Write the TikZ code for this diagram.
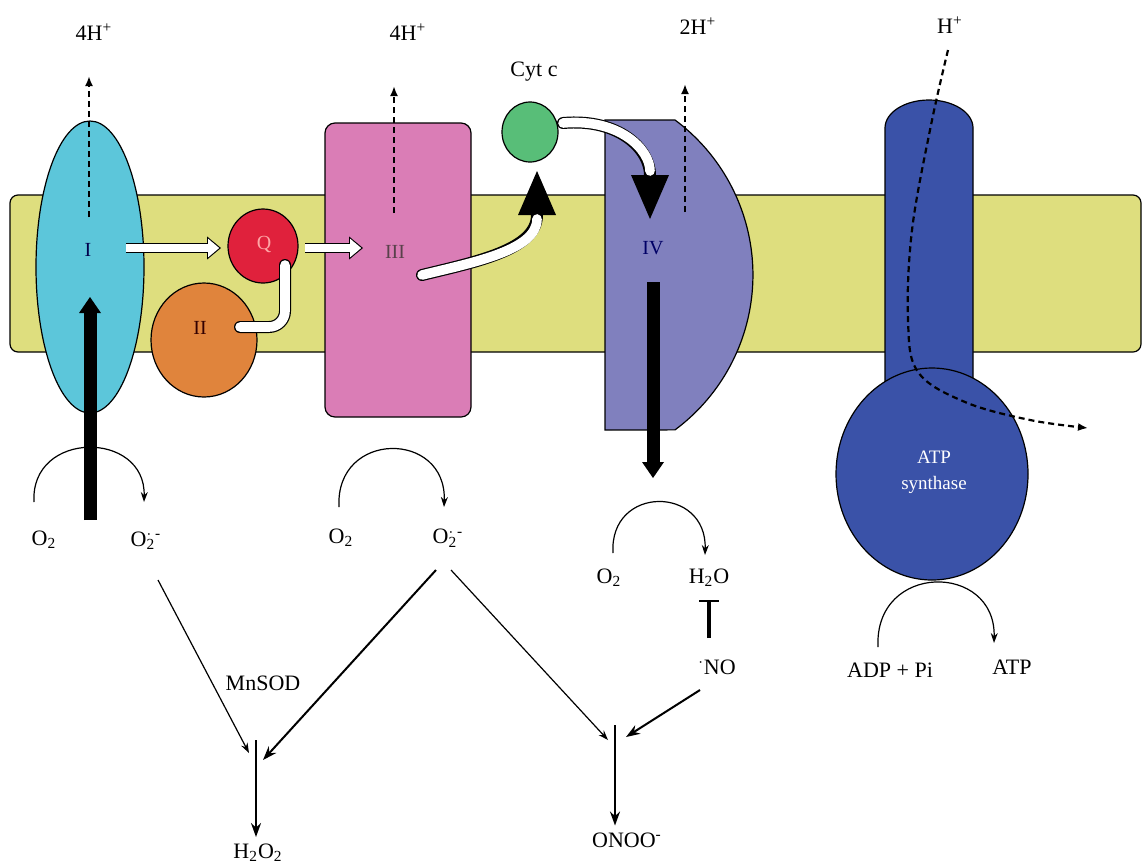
\documentclass[tikz,border=0pt]{standalone}
\usepackage{fontspec}
\setmainfont{Liberation Serif}
\usetikzlibrary{arrows.meta}
\definecolor{membrane}{HTML}{DEDE7E}
\definecolor{cI}{HTML}{5CC6DA}
\definecolor{cII}{HTML}{E0843C}
\definecolor{cQ}{HTML}{E0213C}
\definecolor{cIII}{HTML}{DA7DB6}
\definecolor{cyt}{HTML}{58BE78}
\definecolor{cIV}{HTML}{8080BE}
\definecolor{atps}{HTML}{3A52A8}
\tikzset{
  >=latex,
}
\tikzstyle{every node}=[font=\fontsize{11}{13}\selectfont]
\tikzstyle{cplx}=[draw=black, line width=0.6pt]
\tikzstyle{cname}=[font=\fontsize{10}{12}\selectfont]
\tikzstyle{eflow}=[white, line width=3.8pt, -{Triangle[length=5.6pt,width=9.4pt,line width=0pt]}, shorten >=0.9pt,
  preaction={draw=black, line width=5pt, -{Triangle[length=7pt,width=11.6pt,line width=0pt]}, shorten >=0pt}]
\tikzstyle{ecurve}=[white, line width=4.8pt, line cap=round, shorten >=24pt,
  preaction={draw=black, line width=6pt, line cap=round, shorten >=0pt, -{Triangle[length=22pt,width=19pt,line width=0pt]}}]
\tikzstyle{elink}=[white, line width=4.8pt, line cap=round, preaction={draw=black, line width=6pt, line cap=round}]
\tikzstyle{flux}=[line width=6.5pt, -{Triangle[length=8pt,width=11pt,line width=0pt]}]
\tikzstyle{proton}=[line width=1.1pt, dash pattern=on 3pt off 2pt, -{Latex[length=5pt,width=4pt]}]
\tikzstyle{react}=[line width=0.6pt, -{Stealth[length=5pt,width=3.5pt]}]
\tikzstyle{reactb}=[line width=1pt, -{Stealth[length=7pt,width=5pt]}]
\tikzstyle{inhib}=[line width=2pt, -{Bar[width=10pt,line width=1.2pt]}]
\newcommand{\superox}{O\rlap{\textsuperscript{$\cdot$}}\textsubscript{2}\textsuperscript{-}}

\begin{document}
\begin{tikzpicture}[x=0.5pt,y=-0.5pt]
  \useasboundingbox (0,0) rectangle (1143,863);
  \filldraw[cplx, fill=membrane, rounded corners=4pt] (10,195) rectangle (1141,352);
  \filldraw[cplx, fill=cI] (90,267) ellipse [x radius=54, y radius=146];
  \filldraw[cplx, fill=cII] (204,340) ellipse [x radius=53, y radius=57];
  \filldraw[cplx, fill=cQ] (263,246) ellipse [x radius=35, y radius=37];
  \filldraw[cplx, fill=cIII, rounded corners=5pt] (325,123) rectangle (471,417);
  \filldraw[cplx, fill=cyt] (530,132) ellipse [x radius=28, y radius=30];
  \filldraw[cplx, fill=cIV] (605,120) -- (675,120) arc[start angle=-53.4, end angle=53.4, radius=193] -- (605,430) -- cycle;
  \filldraw[cplx, fill=atps] (885,400) -- (885,128) arc[start angle=180, end angle=360, x radius=44, y radius=28] -- (973,400) -- cycle;
  \filldraw[cplx, fill=atps] (932,474) ellipse [x radius=96, y radius=106];

  \node (hI) at (94,32) {4H\textsuperscript{+}};
  \node (hIII) at (408,32) {4H\textsuperscript{+}};
  \node (cytlab) at (534,72) {Cyt c};
  \node (hIV) at (698,26) {2H\textsuperscript{+}};
  \node (hATP) at (950,25) {H\textsuperscript{+}};

  \node[cname, text=black!70!blue] (lI) at (88,250) {I};
  \node[cname, text=black!80!red] (lII) at (200,328) {II};
  \node[cname, text=red!35] (lQ) at (264,244) {Q};
  \node[cname, text=black!75!magenta] (lIII) at (395,252) {III};
  \node[cname, text=black!60!blue] (lIV) at (653,248) {IV};
  \node[cname, text=white, align=center, font=\fontsize{9.5}{13}\selectfont] (lATP) at (934,472) {ATP\\synthase};

  \coordinate (e1s) at (126,248); \coordinate (e1e) at (221,248);
  \coordinate (e2s) at (305,248); \coordinate (e2e) at (363,248);
  \coordinate (e3s) at (240,327); \coordinate (e3e) at (285,265);
  \coordinate (e4s) at (422,275); \coordinate (e4e) at (537,171);
  \coordinate (e5s) at (563,123); \coordinate (e5e) at (650,219);
  \draw[eflow] (e1s) -- (e1e);
  \draw[eflow] (e2s) -- (e2e);
  \draw[elink, rounded corners=8pt] (e3s) -- (e3s -| e3e) -- (e3e);
  \draw[ecurve] (e4s) .. controls (475,262) and (537,250) .. (e4e);
  \draw[ecurve] (e5s) .. controls (620,118) and (650,150) .. (e5e);

  \coordinate (fIs) at (90,520); \coordinate (fIe) at (90,297);
  \coordinate (fIVs) at (653,282); \coordinate (fIVe) at (653,478);
  \draw[flux] (fIs) -- (fIe);
  \draw[flux] (fIVs) -- (fIVe);

  \coordinate (pIs) at (89,217); \coordinate (pIe) at (89,76);
  \coordinate (pIIIs) at (394,213); \coordinate (pIIIe) at (394,86);
  \coordinate (pIVs) at (685,212); \coordinate (pIVe) at (685,84);
  \coordinate (hin) at (948,50); \coordinate (hout) at (1088,428);
  \draw[proton] (pIs) -- (pIe);
  \draw[proton] (pIIIs) -- (pIIIe);
  \draw[proton] (pIVs) -- (pIVe);
  \draw[proton] plot[smooth, tension=0.6] coordinates {(hin) (931,125) (912,230) (908,320) (918,372) (965,402) (1030,420) (hout)};

  \node (o2a) at (44,540) {O\textsubscript{2}};
  \node (sa) at (146,540) {\superox};
  \node (o2b) at (341,538) {O\textsubscript{2}};
  \node (sb) at (448,538) {\superox};
  \node (o2c) at (609,578) {O\textsubscript{2}};
  \node (h2o) at (709,578) {H\textsubscript{2}O};
  \node (no) at (717,667) {\textsuperscript{$\cdot$}NO};
  \node (mnsod) at (263,683) {MnSOD};
  \node (h2o2) at (258,853) {H\textsubscript{2}O\textsubscript{2}};
  \node (onoo) at (627,840) {ONOO\textsuperscript{-}};
  \node (adp) at (890,670) {ADP + Pi};
  \node (atp) at (1012,667) {ATP};

  \coordinate (r1s) at (34,502); \coordinate (r1e) at (144,502);
  \coordinate (r2s) at (339,507); \coordinate (r2e) at (444,507);
  \coordinate (r3s) at (613,553); \coordinate (r3e) at (705,555);
  \coordinate (r4s) at (878,647); \coordinate (r4e) at (994,643);
  \draw[react] (r1s) .. controls (30,430) and (146,430) .. (r1e);
  \draw[react] (r2s) .. controls (335,430) and (447,430) .. (r2e);
  \draw[react] (r3s) .. controls (609,485) and (707,485) .. (r3e);
  \draw[react] (r4s) .. controls (874,562) and (996,562) .. (r4e);

  \coordinate (d1s) at (158,580); \coordinate (d1e) at (249,753);
  \coordinate (d2s) at (436,570); \coordinate (d2e) at (263,760);
  \coordinate (d3s) at (451,570); \coordinate (d3e) at (608,740);
  \coordinate (d4s) at (700,690); \coordinate (d4e) at (626,737);
  \coordinate (jH) at (256,740); \coordinate (jO) at (615,725);
  \coordinate (tb) at (709,638); \coordinate (tt) at (709,600);
  \draw[react] (d1s) -- (d1e);
  \draw[reactb] (d2s) -- (d2e);
  \draw[reactb] (jH) -- (jH |- h2o2.north);
  \draw[react] (d3s) -- (d3e);
  \draw[reactb] (d4s) -- (d4e);
  \draw[reactb] (jO) -- (jO |- onoo.north);
  \draw[inhib] (tb) -- (tt);
\end{tikzpicture}
\end{document}
